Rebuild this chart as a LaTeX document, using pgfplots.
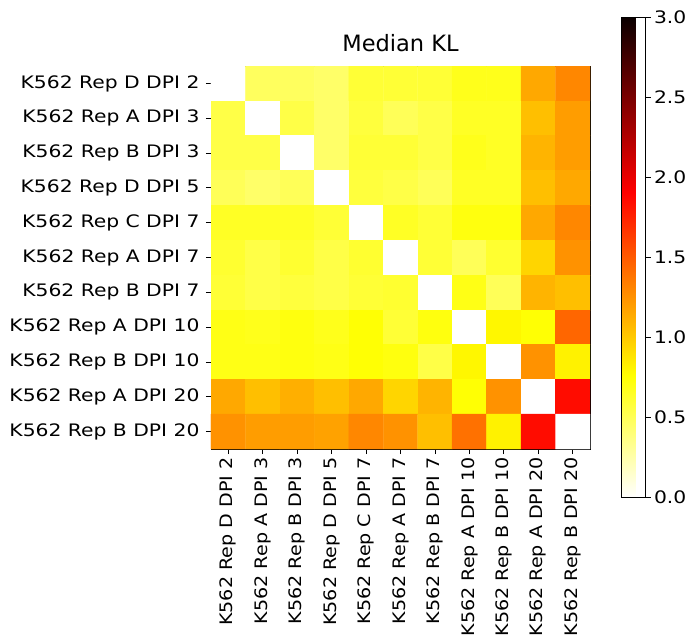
\documentclass[border=0pt]{standalone}
\usepackage{fontspec}
\setmainfont{DejaVu Sans}
\newfontfamily\tickfont{DejaVu Sans}[FakeStretch=1.18]
\newfontfamily\xtickfont{DejaVu Sans}[FakeStretch=1.11]
\usepackage{pgfplots}
\pgfplotsset{compat=1.18}
\pgfplotsset{
  colormap={hotr}{rgb(0pt)=(1,1,1); rgb(254pt)=(1,1,0); rgb(635pt)=(1,0,0); rgb(1000pt)=(0.0416,0,0)}
}
\begin{document}
\begin{tikzpicture}
\begin{axis}[
  scale only axis,
  width=379pt, height=383pt,
  xmin=-0.5, xmax=10.5, ymin=-0.5, ymax=10.5,
  y dir=reverse,
  axis line style={black, line width=0.9pt},
  xtick={0,...,10}, ytick={0,...,10},
  xticklabels={K562 Rep D DPI 2,K562 Rep A DPI 3,K562 Rep B DPI 3,K562 Rep D DPI 5,K562 Rep C DPI 7,K562 Rep A DPI 7,K562 Rep B DPI 7,K562 Rep A DPI 10,K562 Rep B DPI 10,K562 Rep A DPI 20,K562 Rep B DPI 20},
  yticklabels={K562 Rep D DPI 2,K562 Rep A DPI 3,K562 Rep B DPI 3,K562 Rep D DPI 5,K562 Rep C DPI 7,K562 Rep A DPI 7,K562 Rep B DPI 7,K562 Rep A DPI 10,K562 Rep B DPI 10,K562 Rep A DPI 20,K562 Rep B DPI 20},
  xtick pos=left, ytick pos=left,
  tick align=outside, major tick length=5pt,
  tick style={black, line width=0.9pt},
  yticklabel style={font=\tickfont\fontsize{17.2}{20}\selectfont, xshift=-3pt},
  xticklabel style={font=\xtickfont\fontsize{17.2}{20}\selectfont, rotate=90, anchor=east},
  title={Median KL},
  title style={font=\fontsize{22.5}{27}\selectfont, at={(0.5,1)}, anchor=south, yshift=5pt},
  colormap name=hotr,
  point meta min=0, point meta max=3,
  colorbar,
  colorbar style={
    at={(parent axis.east)}, anchor=west, xshift=23pt,
    width=24pt, height=480pt,
    ytick={0,0.5,...,3},
    yticklabel={\pgfmathprintnumber[fixed,fixed zerofill,precision=1]{\tick}},
    /pgf/number format/assume math mode=true,
    tick align=outside, major tick length=5pt,
    ytick pos=right, yticklabel pos=right,
    yticklabel style={xshift=0pt, font=\tickfont\fontsize{17.2}{20}\selectfont},
    axis line style={black, line width=0.9pt},
    tick style={black, line width=0.9pt},
  },
]
\addplot[matrix plot*, mesh/cols=11, point meta=explicit] table[meta=c] {
x y c
0 0 0
1 0 0.48
2 0 0.48
3 0 0.45
4 0 0.60
5 0 0.60
6 0 0.60
7 0 0.68
8 0 0.68
9 0 1.15
10 0 1.30
0 1 0.55
1 1 0
2 1 0.55
3 1 0.45
4 1 0.58
5 1 0.50
6 1 0.55
7 1 0.65
8 1 0.65
9 1 1.05
10 1 1.20
0 2 0.55
1 2 0.55
2 2 0
3 2 0.45
4 2 0.60
5 2 0.60
6 2 0.55
7 2 0.68
8 2 0.65
9 2 1.10
10 2 1.20
0 3 0.50
1 3 0.45
2 3 0.50
3 3 0
4 3 0.58
5 3 0.55
6 3 0.50
7 3 0.65
8 3 0.65
9 3 1.05
10 3 1.15
0 4 0.65
1 4 0.65
2 4 0.65
3 4 0.60
4 4 0
5 4 0.65
6 4 0.60
7 4 0.72
8 4 0.72
9 4 1.15
10 4 1.30
0 5 0.62
1 5 0.55
2 5 0.62
3 5 0.55
4 5 0.62
5 5 0
6 5 0.60
7 5 0.50
8 5 0.62
9 5 0.95
10 5 1.25
0 6 0.60
1 6 0.55
2 6 0.58
3 6 0.55
4 6 0.60
5 6 0.62
6 6 0
7 6 0.70
8 6 0.50
9 6 1.10
10 6 1.05
0 7 0.70
1 7 0.68
2 7 0.72
3 7 0.68
4 7 0.75
5 7 0.60
6 7 0.72
7 7 0
8 7 0.80
9 7 0.75
10 7 1.45
0 8 0.70
1 8 0.70
2 8 0.72
3 8 0.70
4 8 0.75
5 8 0.72
6 8 0.55
7 8 0.80
8 8 0
9 8 1.25
10 8 0.82
0 9 1.15
1 9 1.05
2 9 1.12
3 9 1.05
4 9 1.15
5 9 0.95
6 9 1.10
7 9 0.75
8 9 1.25
9 9 0
10 9 1.85
0 10 1.25
1 10 1.20
2 10 1.20
3 10 1.18
4 10 1.30
5 10 1.25
6 10 1.05
7 10 1.40
8 10 0.82
9 10 1.85
10 10 0
};
\end{axis}
\pgfresetboundingbox
\path (-211pt,-193pt) rectangle (474pt,449pt);
\end{tikzpicture}
\end{document}
